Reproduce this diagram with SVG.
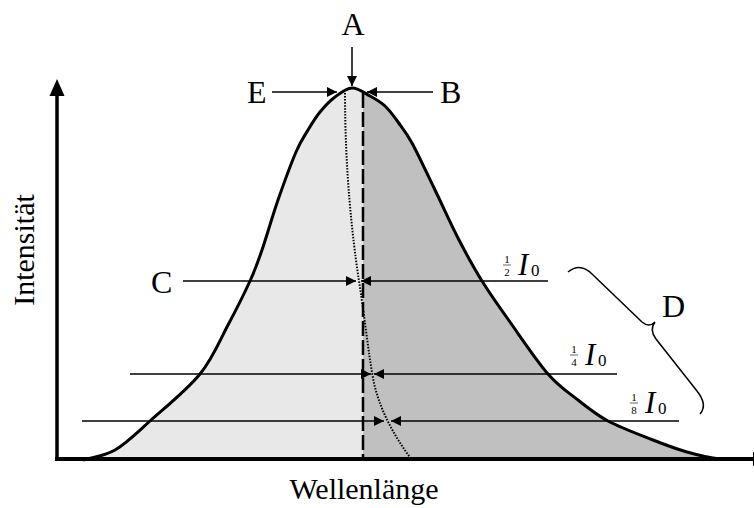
<svg xmlns="http://www.w3.org/2000/svg" width="754" height="508" viewBox="0 0 754 508">
<style>
.lbl{font-family:"Liberation Serif","Times New Roman",serif;font-size:32px;fill:#000}
.ax{font-family:"Liberation Serif","Times New Roman",serif;font-size:30px;fill:#000}
.frac{font-family:"Liberation Serif","Times New Roman",serif;font-size:11px;fill:#000;text-anchor:middle}
.ii{font-family:"Liberation Serif","Times New Roman",serif;font-size:31px;font-style:italic;fill:#000}
.sub{font-family:"Liberation Serif","Times New Roman",serif;font-size:17px;fill:#000}
.thin{stroke:#000;stroke-width:1.5;fill:none}
.arr{stroke:#000;stroke-width:1.5;fill:none;marker-end:url(#ah)}
</style>
<defs>
<marker id="ah" markerUnits="userSpaceOnUse" markerWidth="12" markerHeight="10" refX="10" refY="5" orient="auto">
<path d="M0,0 L10,5 L0,10 Z" fill="#000"/>
</marker>
<path id="curve" d="M83,460 C93,457 103.8,456.5 115,450 C126.2,443.5 135.8,433.7 150,421 C164.2,408.3 187,390 200,374 C213,358 219.7,340.5 228,325 C236.3,309.5 244.3,293.5 250,281 C255.7,268.5 257.3,263.5 262,250 C266.7,236.5 272.3,216.3 278,200 C283.7,183.7 291,163.7 296,152 C301,140.3 304,136.7 308,130 C312,123.3 315.5,117.5 320,112 C324.5,106.5 329.7,101 335,97 C340.3,93 346.2,88.2 352,88 C357.8,87.8 364.5,93 370,96 C375.5,99 380.3,101.7 385,106 C389.7,110.3 393.5,115.8 398,122 C402.5,128.2 405.8,131.7 412,143 C418.2,154.3 427.3,174.2 435,190 C442.7,205.8 450.2,222.8 458,238 C465.8,253.2 473.3,267 482,281 C490.7,295 499,306.5 510,322 C521,337.5 536.7,361 548,374 C559.3,387 568,392.2 578,400 C588,407.8 595.5,414.3 608,421 C620.5,427.7 639.8,434.8 653,440 C666.2,445.2 675.8,448.8 687,452 C698.2,455.2 710,458 720,459"/>
<clipPath id="rightHalf"><rect x="363" y="0" width="400" height="508"/></clipPath>
</defs>
<rect width="754" height="508" fill="#fff"/>

<g id="fill">
<use href="#curve" fill="#e8e8e8" stroke="none"/>
<use href="#curve" fill="#c0c0c0" stroke="none" clip-path="url(#rightHalf)"/>
</g>

<g id="guides">
<line x1="363" y1="93" x2="363" y2="460" stroke="#000" stroke-width="2.5" stroke-dasharray="15 4"/>
<path d="M345,93 C345,170 352,235 359,281 S368,350 373,378 S393,435 412,460" stroke="#000" stroke-width="2" fill="none" stroke-dasharray="1.5 1.5"/>
</g>

<g id="spectrum">
<use href="#curve" fill="none" stroke="#000" stroke-width="3" stroke-linejoin="round"/>
</g>

<g id="axes">
<line x1="57" y1="92" x2="57" y2="461" stroke="#000" stroke-width="3.5"/>
<path d="M57,79 L49.5,96 L64.5,96 Z" fill="#000"/>
<line x1="55" y1="459" x2="754" y2="459" stroke="#000" stroke-width="4"/>
<path d="M753,452 L768,459 L753,466 Z" fill="#000"/>
<text class="ax" transform="translate(34,250) rotate(-90)" text-anchor="middle">Intensität</text>
<text class="ax" x="364" y="499" text-anchor="middle">Wellenlänge</text>
</g>

<g id="connectors">
<line class="arr" x1="352" y1="47" x2="352" y2="86"/>
<line class="arr" x1="272" y1="92" x2="337" y2="92"/>
<line class="arr" x1="433" y1="92" x2="367" y2="92"/>
<line class="arr" x1="183" y1="281" x2="356" y2="281"/>
<line class="arr" x1="548" y1="281" x2="361" y2="281"/>
<line class="arr" x1="130" y1="374" x2="371" y2="374"/>
<line class="arr" x1="617" y1="374" x2="374" y2="374"/>
<line class="arr" x1="82" y1="421" x2="384" y2="421"/>
<line class="arr" x1="679" y1="421" x2="391" y2="421"/>
<path class="thin" stroke-width="1.2" d="M568,272 Q580,262 592,274 L642,322 Q649,328 655,322 Q649,330 656,339 L697,391 Q708,405 700,414"/>
</g>

<g id="A"><text class="lbl" x="353" y="35" text-anchor="middle">A</text></g>
<g id="E"><text class="lbl" x="247" y="103">E</text></g>
<g id="B"><text class="lbl" x="440" y="103">B</text></g>
<g id="C"><text class="lbl" x="151" y="293">C</text></g>
<g id="D"><text class="lbl" x="662" y="317">D</text></g>

<g id="half">
<text class="frac" x="507" y="263">1</text>
<line x1="503" y1="265" x2="511" y2="265" stroke="#000" stroke-width="0.6"/>
<text class="frac" x="507" y="276">2</text>
<text class="ii" x="518" y="275">I</text>
<text class="sub" x="531" y="276">0</text>
</g>
<g id="quarter">
<text class="frac" x="574" y="353">1</text>
<line x1="570" y1="355" x2="578" y2="355" stroke="#000" stroke-width="0.6"/>
<text class="frac" x="574" y="366">4</text>
<text class="ii" x="585" y="365">I</text>
<text class="sub" x="598" y="366">0</text>
</g>
<g id="eighth">
<text class="frac" x="634" y="401">1</text>
<line x1="630" y1="403" x2="638" y2="403" stroke="#000" stroke-width="0.6"/>
<text class="frac" x="634" y="414">8</text>
<text class="ii" x="645" y="413">I</text>
<text class="sub" x="658" y="414">0</text>
</g>
</svg>
